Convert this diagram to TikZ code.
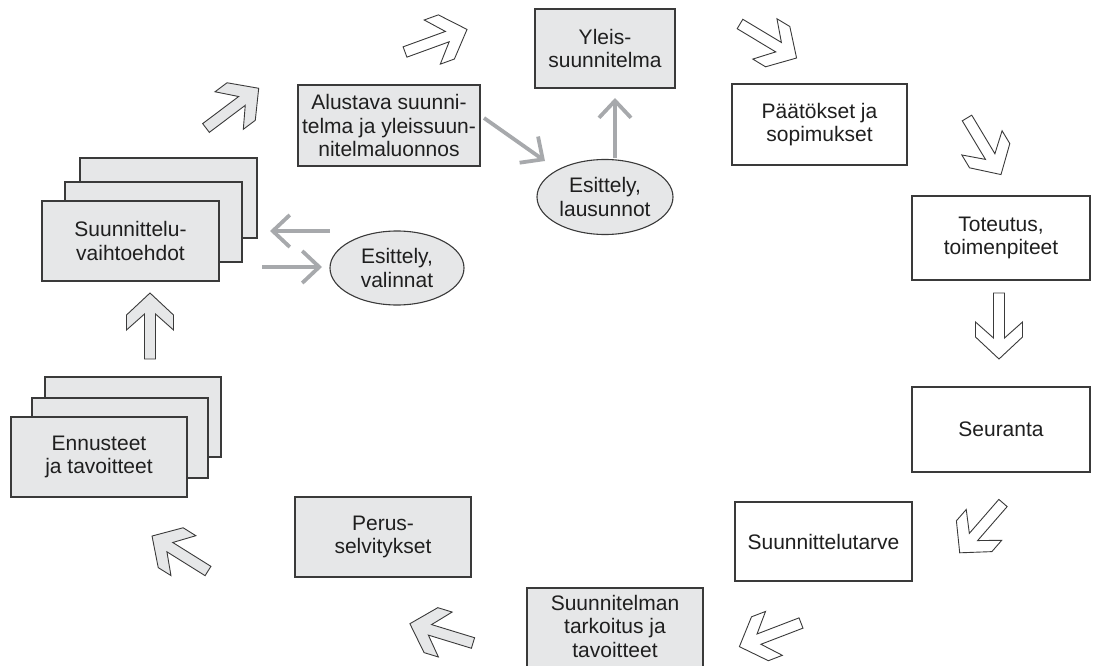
\documentclass[tikz,border=0pt]{standalone}
\usepackage{fontspec}
\setmainfont{Liberation Sans}
\usetikzlibrary{arrows.meta,shapes.geometric}
\definecolor{boxgray}{HTML}{E6E7E8}
\definecolor{edgec}{HTML}{3A3A3A}
\definecolor{arrgray}{HTML}{A7A9AC}
\begin{document}
\begin{tikzpicture}[x=1pt,y=-1pt,
  txt/.style={font=\fontsize{21}{23.5}\selectfont, align=center, text=black!88},
  gbox/.style={txt, draw=edgec, fill=boxgray, line width=1.1pt, inner sep=0pt},
  wbox/.style={txt, draw=edgec, fill=white, line width=1.1pt, inner sep=0pt},
  ell/.style={txt, ellipse, draw=edgec, fill=boxgray, line width=1.1pt, inner sep=0pt},
  garrow/.style={draw=arrgray, line width=3.8pt, -{Straight Barb[length=17pt,width=32pt]}},
  barrowstyle/.style={draw=edgec, line width=0.9pt, line join=miter},
  barrow/.pic={\path[pic actions] (0,5.5)--(45,5.5)--(29,23.5)--(44,23.5)--(66,0)--(44,-23.5)--(29,-23.5)--(45,-5.5)--(0,-5.5)--cycle;}
]
\useasboundingbox (0,0) rectangle (1093,666);

% boxes
\node[gbox, minimum width=140, minimum height=79] (yleis) at (605,48.5) {Yleis-\\suunnitelma};
\node[wbox, minimum width=175, minimum height=81] (paat) at (819.5,124.5) {Päätökset ja\\sopimukset};
\node[wbox, minimum width=178, minimum height=84] (tot) at (1001,238) {Toteutus,\\toimenpiteet};
\node[wbox, minimum width=178, minimum height=85] (seur) at (1001,429.5) {Seuranta};
\node[wbox, minimum width=177, minimum height=79] (tarve) at (823.5,541.5) {Suunnittelutarve};
\node[gbox, minimum width=176, minimum height=100] (tark) at (615,638) {};
\node[txt] (tarktxt) at (615,626) {Suunnitelman\\tarkoitus ja\\tavoitteet};
\node[gbox, minimum width=176, minimum height=80] (perus) at (383,537) {Perus-\\selvitykset};
\node[gbox, minimum width=182, minimum height=81] (alust) at (389,125.5) {Alustava suunni-\\telma ja yleissuun-\\nitelmaluonnos};

% stacks
\node[gbox, minimum width=176, minimum height=80] (enn3) at (133,417) {};
\node[gbox, minimum width=176, minimum height=80] (enn2) at (120,438) {};
\node[gbox, minimum width=176, minimum height=80] (enn) at (99,457) {Ennusteet\\ja tavoitteet};
\node[gbox, minimum width=177, minimum height=80] (vaiht3) at (168.5,198) {};
\node[gbox, minimum width=177, minimum height=80] (vaiht2) at (153.5,222) {};
\node[gbox, minimum width=177, minimum height=80] (vaiht) at (130.5,241) {Suunnittelu-\\vaihtoehdot};

% ellipses
\node[ell, minimum width=136, minimum height=75] (laus) at (605,197) {Esittely,\\lausunnot};
\node[ell, minimum width=134, minimum height=74] (val) at (397,268) {Esittely,\\valinnat};

% grey arrows
\coordinate (a1s) at (330,231); \coordinate (a1e) at (270,231);
\coordinate (a2s) at (262,267); \coordinate (a2e) at (322,267);
\coordinate (a3s) at (484,118); \coordinate (a3e) at (545,161);
\coordinate (a4s) at (615,158); \coordinate (a4e) at (615,98);
\draw[garrow] (a1s) -- (a1e);
\draw[garrow] (a2s) -- (a2e);
\draw[garrow] (a3s) -- (a3e);
\draw[garrow] (a4s) -- (a4e);

% block arrows
\pic[barrowstyle, fill=white, rotate=20] at (405,52) {barrow};
\pic[barrowstyle, fill=white, rotate=-31] at (740,24) {barrow};
\pic[barrowstyle, fill=white, rotate=-59] at (967,118) {barrow};
\pic[barrowstyle, fill=white, rotate=-90] at (999,293) {barrow};
\pic[barrowstyle, fill=white, rotate=229] at (1003,503) {barrow};
\pic[barrowstyle, fill=white, rotate=201] at (801,623) {barrow};
\pic[barrowstyle, fill=boxgray, rotate=163] at (473,643) {barrow};
\pic[barrowstyle, fill=boxgray, rotate=148] at (208,571) {barrow};
\pic[barrowstyle, fill=boxgray, rotate=90] at (150,359) {barrow};
\pic[barrowstyle, fill=boxgray, rotate=37] at (206,128) {barrow};
\end{tikzpicture}
\end{document}
